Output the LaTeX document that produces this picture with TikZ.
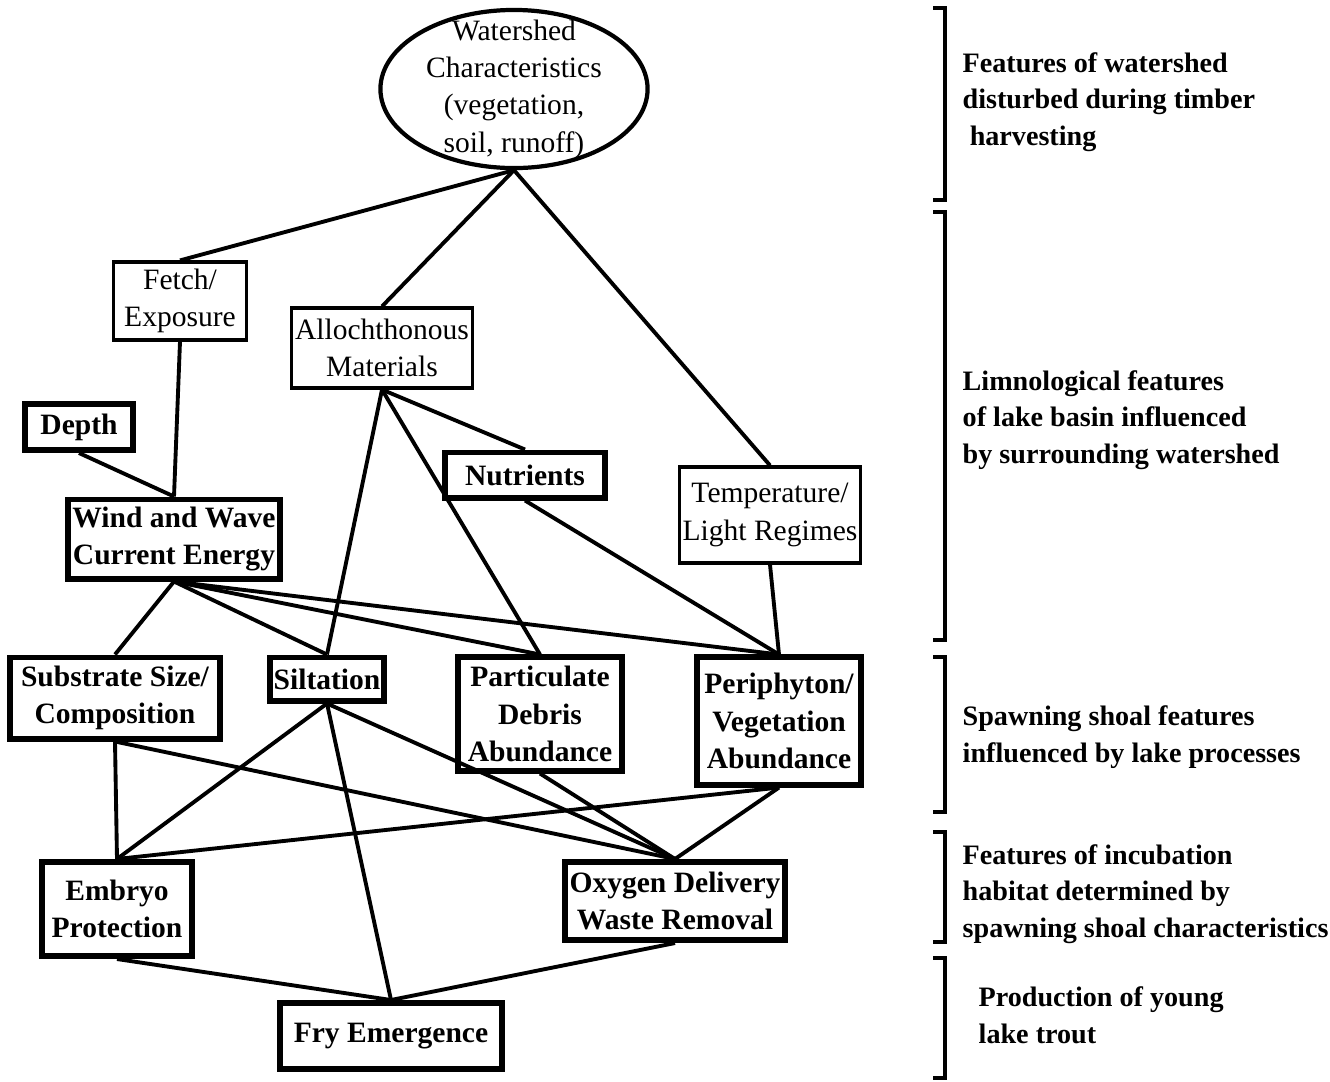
\documentclass[tikz,border=0pt]{standalone}
\usepackage{fontspec}
\setmainfont{Liberation Serif}
\usetikzlibrary{shapes.geometric}
\begin{document}
\begin{tikzpicture}[x=0.01cm,y=-0.01cm,
    thinbox/.style={draw,line width=0.9pt,inner sep=1pt,align=center,font=\fontsize{8.4}{10.6}\selectfont},
    thickbox/.style={draw,line width=1.7pt,inner sep=1pt,align=center,font=\fontsize{8.4}{10.6}\selectfont\bfseries},
    link/.style={line width=1.1pt},
    note/.style={anchor=west,align=left,inner sep=0pt,font=\fontsize{8}{10.4}\selectfont\bfseries}]
  \useasboundingbox (0,0) rectangle (1330,1081);
  % watershed
  \node[draw,ellipse,line width=1.2pt,minimum width=2.67cm,minimum height=1.58cm] (ws) at (514,89) {};
  \node[align=center,inner sep=0pt,font=\fontsize{8.4}{10.6}\selectfont] (wstext) at (514,89)
    {Watershed\\Characteristics\\(vegetation,\\soil, runoff)};
  % lake basin
  \node[thinbox,minimum width=1.33cm,minimum height=0.78cm] (fetch) at (180,301) {Fetch/\\Exposure};
  \node[thinbox,minimum width=1.80cm,minimum height=0.80cm] (alloch) at (382,348) {Allochthonous\\Materials};
  \node[thinbox,minimum width=1.81cm,minimum height=0.96cm] (temp) at (770,515) {Temperature/\\Light Regimes};
  \node[thickbox,minimum width=1.08cm,minimum height=0.46cm] (depth) at (79,427) {Depth};
  \node[thickbox,minimum width=1.60cm,minimum height=0.45cm] (nutr) at (525,475) {Nutrients};
  \node[thickbox,minimum width=2.11cm,minimum height=0.79cm] (wind) at (174,539) {Wind and Wave\\Current Energy};
  % spawning shoal
  \node[thickbox,minimum width=2.10cm,minimum height=0.81cm] (subst) at (115,698) {Substrate Size/\\Composition};
  \node[thickbox,minimum width=0.91cm,minimum height=0.43cm] (silt) at (327,679) {Siltation};
  \node[thickbox,minimum width=1.64cm,minimum height=1.13cm] (part) at (540,714) {Particulate\\Debris\\Abundance};
  \node[thickbox,minimum width=1.64cm,minimum height=1.27cm] (peri) at (779,721) {Periphyton/\\Vegetation\\Abundance};
  % incubation and emergence
  \node[thickbox,minimum width=1.49cm,minimum height=0.94cm] (embryo) at (117,909) {Embryo\\Protection};
  \node[thickbox,minimum width=2.19cm,minimum height=0.78cm] (oxy) at (675,901) {Oxygen Delivery\\Waste Removal};
  \node[thickbox,minimum width=2.22cm,minimum height=0.66cm] (fry) at (391,1036) {Fry Emergence};
  \foreach \a/\b in {ws/fetch,ws/alloch,ws/temp,fetch/wind,depth/wind,
      alloch/nutr,alloch/silt,alloch/part,nutr/peri,temp/peri,
      wind/subst,wind/silt,wind/part,wind/peri,
      silt/embryo,silt/fry,silt/oxy,subst/embryo,subst/oxy,
      part/oxy,peri/oxy,peri/embryo,embryo/fry,oxy/fry}
    \draw[link] (\a.south) -- (\b.north);
  % levels on the right
  \foreach \ya/\yb in {8/200,212/640,657/812,832/942,958/1078}
    \draw[line width=1pt] (933,\ya) -- (945,\ya) -- (945,\yb) -- (933,\yb);
  \node[note] (lvla) at (962,102) {Features of watershed\\disturbed during timber\\\hspace*{2pt}harvesting};
  \node[note] (lvlb) at (962,420) {Limnological features\\of lake basin influenced\\by surrounding watershed};
  \node[note] (lvlc) at (962,737) {Spawning shoal features\\influenced by lake processes};
  \node[note] (lvld) at (962,894) {Features of incubation\\habitat determined by\\spawning shoal characteristics};
  \node[note] (lvle) at (978,1015) {Production of young\\lake trout};
\end{tikzpicture}
\end{document}
